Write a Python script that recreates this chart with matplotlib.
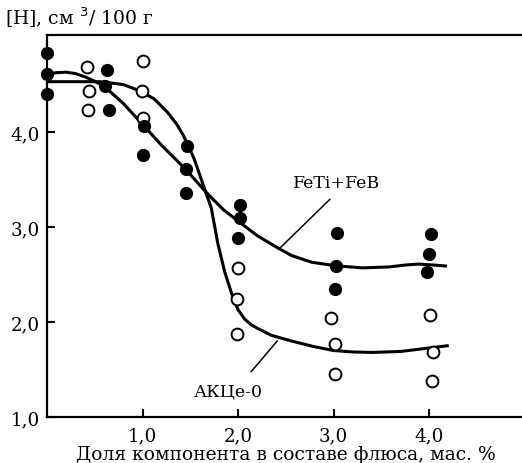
import matplotlib
matplotlib.use("Agg")
import matplotlib.pyplot as plt

# Data: FeTi+FeB (filled points)
feti_x = [0.0, 0.0, 0.0, 0.63, 0.61, 0.65, 1.02, 1.01, 1.47, 1.46, 1.46,
          2.02, 2.02, 2.0, 3.04, 3.03, 3.02, 4.02, 4.0, 3.98]
feti_y = [4.83, 4.61, 4.40, 4.65, 4.48, 4.23, 4.06, 3.76, 3.85, 3.61, 3.36,
          3.23, 3.09, 2.88, 2.94, 2.59, 2.35, 2.93, 2.72, 2.53]

# Data: AKЦе-0 (open points)
akce_x = [0.42, 0.44, 0.43, 1.01, 0.99, 1.01, 2.0, 1.99, 1.99,
          2.97, 3.01, 3.01, 4.01, 4.04, 4.03]
akce_y = [4.68, 4.43, 4.23, 4.75, 4.43, 4.15, 2.57, 2.24, 1.87,
          2.04, 1.77, 1.45, 2.07, 1.68, 1.38]

# Fitted curves
feti_cx = [0.0, 0.1, 0.2, 0.3, 0.4, 0.5, 0.6, 0.8, 1.01, 1.2, 1.45, 1.6,
           1.7, 1.85, 2.03, 2.2, 2.4, 2.56, 2.77, 2.9, 3.05, 3.3, 3.58,
           3.75, 3.89, 4.05, 4.17]
feti_cy = [4.61, 4.625, 4.63, 4.615, 4.58, 4.535, 4.48, 4.30, 4.07, 3.86,
           3.61, 3.44, 3.33, 3.18, 3.04, 2.91, 2.79, 2.70, 2.63, 2.61, 2.59,
           2.57, 2.58, 2.60, 2.61, 2.60, 2.59]
akce_cx = [0.0, 0.3, 0.56, 0.8, 0.98, 1.12, 1.26, 1.36, 1.43, 1.54, 1.64,
           1.72, 1.79, 1.86, 1.93, 2.0, 2.07, 2.14, 2.21, 2.35, 2.56, 2.8,
           3.0, 3.2, 3.4, 3.7, 4.03, 4.19]
akce_cy = [4.53, 4.53, 4.53, 4.50, 4.43, 4.35, 4.21, 4.08, 3.96, 3.72, 3.43,
           3.20, 2.82, 2.53, 2.31, 2.13, 2.03, 1.97, 1.93, 1.86, 1.80, 1.74,
           1.70, 1.685, 1.68, 1.69, 1.73, 1.75]

xticks = [1, 2, 3, 4]
xticklabels = ["1,0", "2,0", "3,0", "4,0"]
yticks = [1, 2, 3, 4]
yticklabels = ["1,0", "2,0", "3,0", "4,0"]

plt.rcParams['font.family'] = ['DejaVu Serif']

fig = plt.figure(figsize=(5.22, 4.64), dpi=100)
ax = fig.add_axes([0.090, 0.0991, 0.915, 0.823])

ax.plot(feti_cx, feti_cy, color='black', lw=2.2, solid_joinstyle='round', zorder=2)
ax.plot(akce_cx, akce_cy, color='black', lw=2.2, solid_joinstyle='round', zorder=2)

ax.plot(akce_x, akce_y, linestyle='none', marker='o', ms=8.5, mfc='white',
        mec='black', mew=1.4, clip_on=False, zorder=3)
ax.plot(feti_x, feti_y, linestyle='none', marker='o', ms=8.5, mfc='black',
        mec='black', mew=1.0, clip_on=False, zorder=4)

# annotation leaders
ax.plot([2.96, 2.43], [3.29, 2.77], color='black', lw=1.1, zorder=2)
ax.plot([2.14, 2.41], [1.48, 1.80], color='black', lw=1.1, zorder=2)
ax.text(2.58, 3.47, "FeTi+FeB", fontsize=12.5, ha='left', va='center')
ax.text(1.54, 1.27, "АКЦе-0", fontsize=12.5, ha='left', va='center')

ax.set_xlim(0, 5.0)
ax.set_ylim(1.0, 5.02)
ax.set_xticks(xticks)
ax.set_xticklabels(xticklabels)
ax.set_yticks(yticks)
ax.set_yticklabels(yticklabels)
ax.tick_params(direction='in', length=6, width=1.5, labelsize=13.2, pad=5)
ax.tick_params(axis='x', pad=7)
ax.spines['right'].set_visible(False)
for s in ['left', 'top', 'bottom']:
    ax.spines[s].set_linewidth(1.6)

ax.set_xlabel("Доля компонента в составе флюса, мас. %", fontsize=13.5,
              labelpad=0)
fig.text(0.010, 0.962, "[H], см $^3$/ 100 г", fontsize=13.5, ha='left',
         va='center')

fig.savefig("out.png", dpi=100)
